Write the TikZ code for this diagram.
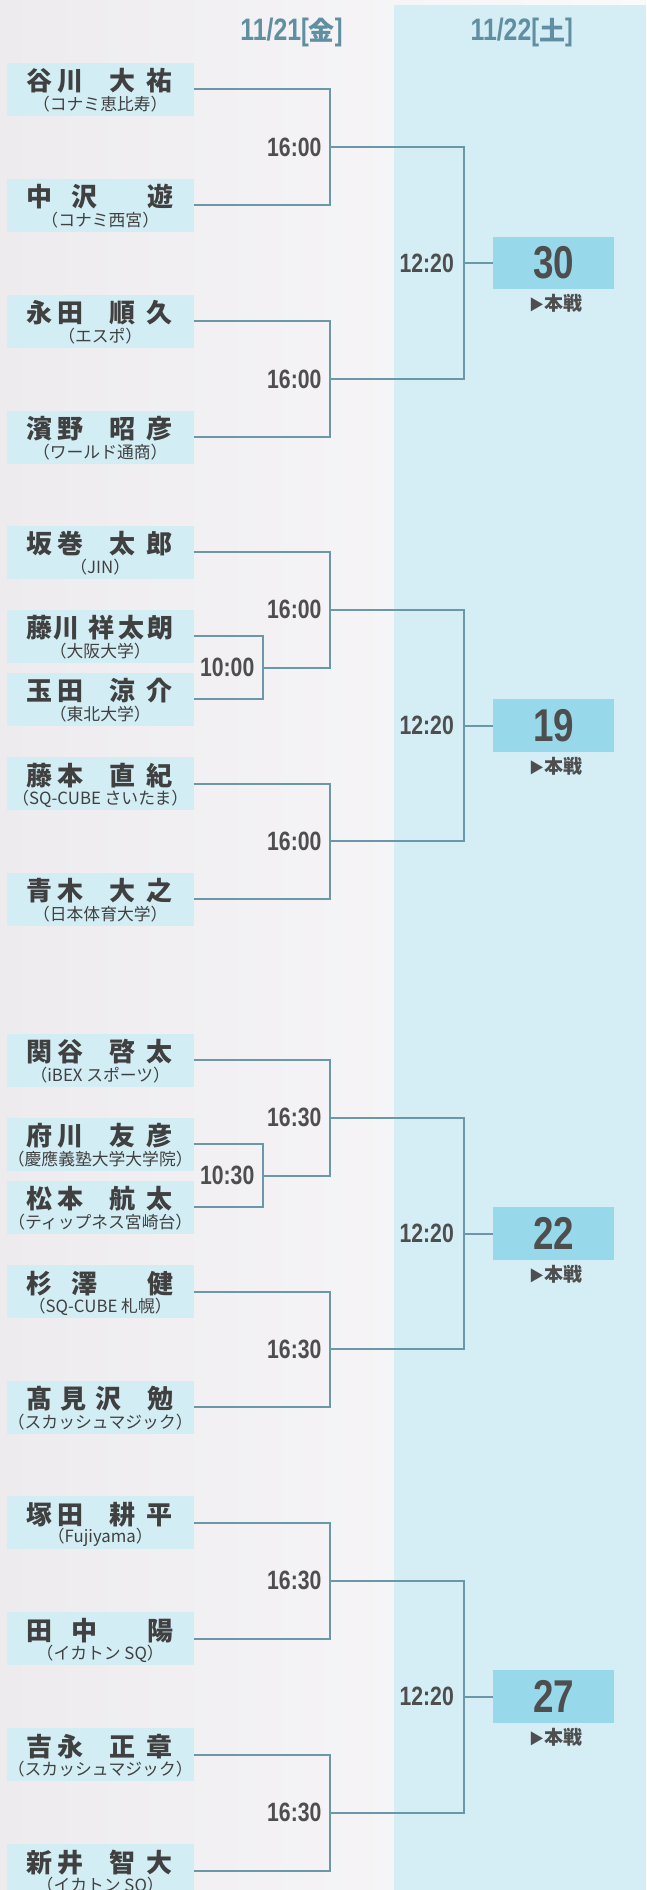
\documentclass[tikz,border=0pt]{standalone}
\usepackage{fontspec}
\usepackage{graphicx}
\setmainfont{Liberation Sans}
\newfontfamily\jp{Noto Sans CJK JP}
\definecolor{bgL}{HTML}{EDEBEE}
\definecolor{bgR}{HTML}{FBFAFB}
\definecolor{panelc}{HTML}{D5EEF5}
\definecolor{pboxc}{HTML}{D3EDF5}
\definecolor{fboxc}{HTML}{98D8EB}
\definecolor{lnc}{HTML}{6B98A8}
\definecolor{hdc}{HTML}{5F8FA1}
\definecolor{txtc}{HTML}{404040}
\definecolor{tmc}{HTML}{4E4E4E}
\newcommand{\ch}[2]{\makebox[0pt][l]{\hspace*{#1pt}\makebox[0pt]{#2}}}
\newcommand{\nmA}[4]{\makebox[186.5pt][l]{\ch{32}{#1}\ch{63}{#2}\ch{115}{#3}\ch{152}{#4}}}
\newcommand{\nmB}[3]{\makebox[186.5pt][l]{\ch{32}{#1}\ch{77}{#2}\ch{153}{#3}}}
\newcommand{\nmC}[4]{\makebox[186.5pt][l]{\ch{32}{#1}\ch{66}{#2}\ch{101}{#3}\ch{153}{#4}}}
\newcommand{\nmD}[5]{\makebox[186.5pt][l]{\ch{32}{#1}\ch{59}{#2}\ch{94}{#3}\ch{124}{#4}\ch{153}{#5}}}
\newcommand{\cnd}[1]{\scalebox{0.8}[1]{#1}}
\newcommand{\player}[4]{%
  \node[playerbox] (#1) at (100.25,#2) {};
  \node[nametext] (#1n) at (7,#2-8) {#3};
  \node[afftext] (#1a) at (100.25,#2+15) {#4};
}
\tikzset{
  playerbox/.style={fill=pboxc, draw=none, minimum width=186.5pt, minimum height=53pt, inner sep=0pt, outer sep=0pt},
  finalbox/.style={fill=fboxc, draw=none, minimum width=121pt, minimum height=52.5pt, inner sep=0pt, outer sep=0pt, text=tmc, font=\bfseries\fontsize{46}{46}\selectfont},
  nametext/.style={anchor=west, inner sep=0pt, text=txtc, font=\jp\bfseries\fontsize{26}{26}\selectfont},
  afftext/.style={inner sep=0pt, text=txtc, font=\jp\fontsize{16.8}{17}\selectfont},
  timelabel/.style={anchor=east, inner sep=0pt, text=tmc, font=\bfseries\fontsize{26.5}{27}\selectfont},
  honsen/.style={inner sep=0pt, text=tmc, font=\jp\bfseries\fontsize{19}{19}\selectfont},
  hdr/.style={inner sep=0pt, text=hdc, font=\bfseries\fontsize{31}{31}\selectfont},
  ln/.style={draw=lnc, line width=2pt}
}
\begin{document}
\begin{tikzpicture}[x=1pt,y=-1pt]
\useasboundingbox (0,0) rectangle (646,1890);
\clip (0,0) rectangle (646,1890);
\shade[left color=bgL, right color=bgR] (0,0) rectangle (646,1890);
\fill[panelc] (394,5) rectangle (646,1890);

% headers
\node[hdr] (h1) at (291.5,32) {\cnd{11/21}\scalebox{0.75}[1]{[}{\jp\bfseries\fontsize{26}{26}\selectfont 金}\scalebox{0.75}[1]{]}};
\node[hdr] (h2) at (521.7,32) {\cnd{11/22}\scalebox{0.75}[1]{[}{\jp\bfseries\fontsize{26}{26}\selectfont 土}\scalebox{0.75}[1]{]}};

% players
\player{p1}{89}{\nmA{谷}{川}{大}{祐}}{（コナミ恵比寿）}
\player{p2}{205}{\nmB{中}{沢}{遊}}{（コナミ西宮）}
\player{p3}{321}{\nmA{永}{田}{順}{久}}{（エスポ）}
\player{p4}{437}{\nmA{濱}{野}{昭}{彦}}{（ワールド通商）}
\player{p5}{552}{\nmA{坂}{巻}{太}{郎}}{（JIN）}
\player{p6}{636}{\nmD{藤}{川}{祥}{太}{朗}}{（大阪大学）}
\player{p7}{699}{\nmA{玉}{田}{涼}{介}}{（東北大学）}
\player{p8}{783.5}{\nmA{藤}{本}{直}{紀}}{（SQ-CUBE さいたま）}
\player{p9}{899}{\nmA{青}{木}{大}{之}}{（日本体育大学）}
\player{p10}{1060}{\nmA{関}{谷}{啓}{太}}{（iBEX スポーツ）}
\player{p11}{1144}{\nmA{府}{川}{友}{彦}}{（慶應義塾大学大学院）}
\player{p12}{1207}{\nmA{松}{本}{航}{太}}{（ティップネス宮崎台）}
\player{p13}{1291.5}{\nmB{杉}{澤}{健}}{（SQ-CUBE 札幌）}
\player{p14}{1407}{\nmC{髙}{見}{沢}{勉}}{（スカッシュマジック）}
\player{p15}{1522.5}{\nmA{塚}{田}{耕}{平}}{（Fujiyama）}
\player{p16}{1638.5}{\nmB{田}{中}{陽}}{（イカトン SQ）}
\player{p17}{1754.5}{\nmA{吉}{永}{正}{章}}{（スカッシュマジック）}
\player{p18}{1870.5}{\nmA{新}{井}{智}{大}}{（イカトン SQ）}

% seeds
\node[finalbox] (f1) at (553.5,263) {\cnd{30}};
\node[finalbox] (f2) at (553.5,725.5) {\cnd{19}};
\node[finalbox] (f3) at (553.5,1233.5) {\cnd{22}};
\node[finalbox] (f4) at (553.5,1696.5) {\cnd{27}};
\foreach \f in {1,2,3,4}{
  \node[honsen] (m\f) at ([xshift=2pt,yshift=-40.5pt]f\f.center) {{\fontsize{15}{15}\selectfont ▶}本戦};
}

% junction coordinates
\coordinate (j1) at (329.6,147);
\coordinate (j2) at (329.6,379);
\coordinate (k1) at (463.5,263);
\coordinate (q1) at (262.5,667.5);
\coordinate (j3) at (329.6,609.75);
\coordinate (j4) at (329.6,841.25);
\coordinate (k2) at (463.5,725.5);
\coordinate (q2) at (262.5,1175.5);
\coordinate (j5) at (329.6,1117.75);
\coordinate (j6) at (329.6,1349.25);
\coordinate (k3) at (463.5,1233.5);
\coordinate (j7) at (329.6,1580.5);
\coordinate (j8) at (329.6,1812.5);
\coordinate (k4) at (463.5,1696.5);

% connectors
\draw[ln] (p1.east) -| (j1) |- (p2.east);
\draw[ln] (p3.east) -| (j2) |- (p4.east);
\draw[ln] (j1) -| (k1) |- (j2);
\draw[ln] (k1) -- (f1.west);

\draw[ln] (p6.east) -| (q1) |- (p7.east);
\draw[ln] (p5.east) -| (j3) |- (q1);
\draw[ln] (p8.east) -| (j4) |- (p9.east);
\draw[ln] (j3) -| (k2) |- (j4);
\draw[ln] (k2) -- (f2.west);

\draw[ln] (p11.east) -| (q2) |- (p12.east);
\draw[ln] (p10.east) -| (j5) |- (q2);
\draw[ln] (p13.east) -| (j6) |- (p14.east);
\draw[ln] (j5) -| (k3) |- (j6);
\draw[ln] (k3) -- (f3.west);

\draw[ln] (p15.east) -| (j7) |- (p16.east);
\draw[ln] (p17.east) -| (j8) |- (p18.east);
\draw[ln] (j7) -| (k4) |- (j8);
\draw[ln] (k4) -- (f4.west);

% time labels
\node[timelabel] (t1) at ([xshift=-8pt]j1) {\cnd{16:00}};
\node[timelabel] (t2) at ([xshift=-8pt]j2) {\cnd{16:00}};
\node[timelabel] (t3) at ([xshift=-8pt]j3) {\cnd{16:00}};
\node[timelabel] (t4) at ([xshift=-8pt]j4) {\cnd{16:00}};
\node[timelabel] (t5) at ([xshift=-8pt]q1) {\cnd{10:00}};
\node[timelabel] (t6) at ([xshift=-8pt]j5) {\cnd{16:30}};
\node[timelabel] (t7) at ([xshift=-8pt]j6) {\cnd{16:30}};
\node[timelabel] (t8) at ([xshift=-8pt]q2) {\cnd{10:30}};
\node[timelabel] (t9) at ([xshift=-8pt]j7) {\cnd{16:30}};
\node[timelabel] (t10) at ([xshift=-8pt]j8) {\cnd{16:30}};
\node[timelabel] (s1) at ([xshift=-9.5pt]k1) {\cnd{12:20}};
\node[timelabel] (s2) at ([xshift=-9.5pt]k2) {\cnd{12:20}};
\node[timelabel] (s3) at ([xshift=-9.5pt]k3) {\cnd{12:20}};
\node[timelabel] (s4) at ([xshift=-9.5pt]k4) {\cnd{12:20}};
\end{tikzpicture}
\end{document}
